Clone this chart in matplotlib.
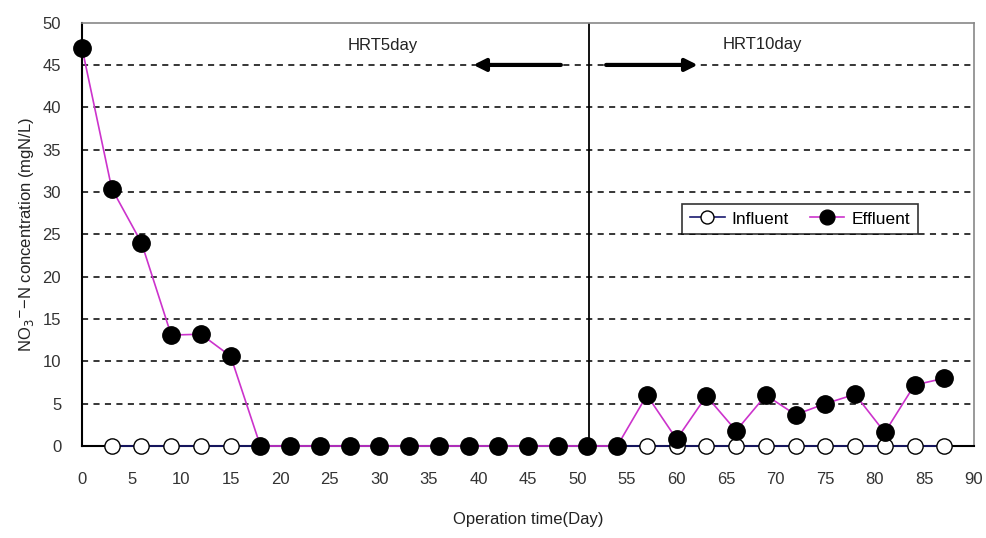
import matplotlib
matplotlib.use("Agg")
import matplotlib.pyplot as plt

# operation days and NO3-N concentration (mgN/L)
influent_days = [3, 6, 9, 12, 15, 18, 21, 24, 27, 30, 33, 36, 39, 42, 45, 48, 51, 54,
                 57, 60, 63, 66, 69, 72, 75, 78, 81, 84, 87]
influent_conc = [0] * len(influent_days)

effluent_days = [0, 3, 6, 9, 12, 15, 18, 21, 24, 27, 30, 33, 36, 39, 42, 45, 48, 51, 54,
                 57, 60, 63, 66, 69, 72, 75, 78, 81, 84, 87]
effluent_conc = [47.0, 30.4, 24.0, 13.1, 13.2, 10.6, 0, 0, 0, 0, 0, 0, 0, 0, 0, 0, 0, 0, 0,
                 6.0, 0.8, 5.9, 1.8, 6.0, 3.7, 5.0, 6.1, 1.6, 7.2, 8.0]

hrt_change_day = 51.2
x_ticks = list(range(0, 91, 5))
y_ticks = list(range(0, 51, 5))

plt.rcParams["font.family"] = ["Liberation Sans", "DejaVu Sans"]

fig = plt.figure(figsize=(9.87, 5.38), dpi=100)
ax = fig.add_axes([0.0831, 0.171, 0.9037, 0.787])

# dashed grid lines
for y in y_ticks[1:-1]:
    ax.axhline(y, color="black", linestyle=(0, (4, 3.5)), linewidth=1.1, zorder=1)

ax.plot(influent_days, influent_conc, color="#1a1a70", linewidth=1.2, marker="o",
        markersize=11, markerfacecolor="white", markeredgecolor="black",
        markeredgewidth=1.0, label="Influent", zorder=3, clip_on=False)
ax.plot(effluent_days, effluent_conc, color="#cc33cc", linewidth=1.2, marker="o",
        markersize=12.5, markerfacecolor="black", markeredgecolor="black",
        label="Effluent", zorder=4, clip_on=False)

# HRT change line and annotations
ax.axvline(hrt_change_day, color="black", linewidth=1.3, zorder=2)
ax.annotate("", xy=(39.2, 45), xytext=(48.6, 45),
            arrowprops=dict(arrowstyle="-|>", color="black", lw=3, mutation_scale=18))
ax.annotate("", xy=(62.4, 45), xytext=(52.6, 45),
            arrowprops=dict(arrowstyle="-|>", color="black", lw=3, mutation_scale=18))
ax.text(30.3, 47.3, "HRT5day", ha="center", va="center", fontsize=12, color="#222222")
ax.text(68.6, 47.4, "HRT10day", ha="center", va="center", fontsize=12, color="#222222")

ax.set_xlim(0, 90)
ax.set_ylim(0, 50)
ax.set_xticks(x_ticks)
ax.set_yticks(y_ticks)
ax.tick_params(length=0, labelsize=12, labelcolor="#333333")
ax.tick_params(axis="x", pad=19)
ax.tick_params(axis="y", pad=15)

for side in ["left", "bottom"]:
    ax.spines[side].set_color("black")
    ax.spines[side].set_linewidth(1.5)
for side in ["top", "right"]:
    ax.spines[side].set_color("#888888")
    ax.spines[side].set_linewidth(1.2)

ax.set_xlabel("Operation time(Day)", fontsize=12, color="#222222", labelpad=18)
ax.set_ylabel(r"NO$_3$$^{-}$−N concentration (mgN/L)", fontsize=12, color="#222222",
              labelpad=5)

leg = ax.legend(loc="upper left", bbox_to_anchor=(0.663, 0.593), ncol=2, frameon=True,
                fancybox=False, edgecolor="black", fontsize=12.5, handlelength=2.0,
                columnspacing=1.2, borderpad=0.45, handletextpad=0.4, markerscale=0.85)
leg.get_frame().set_linewidth(1.2)

fig.savefig("out.png", dpi=100)
